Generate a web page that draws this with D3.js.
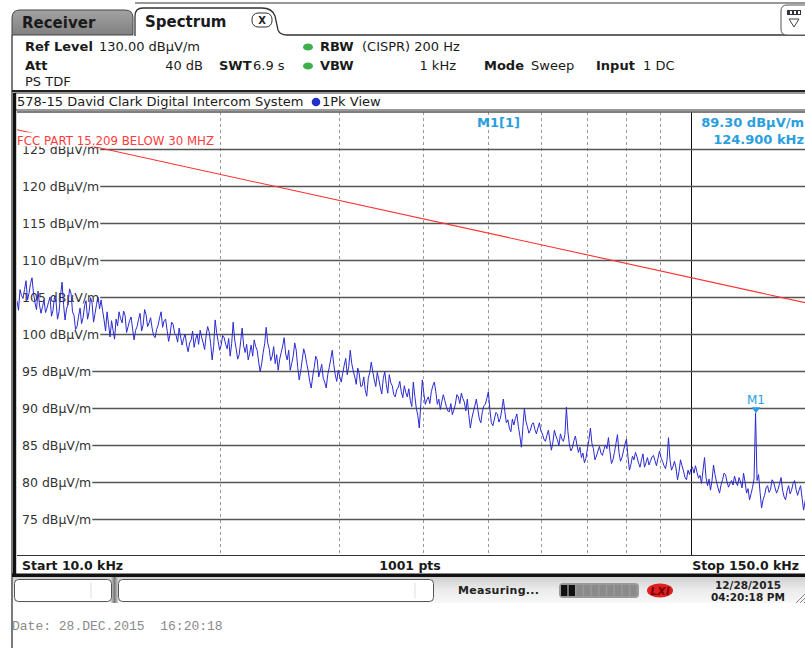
<!DOCTYPE html>
<html><head><meta charset="utf-8">
<script src="https://cdn.jsdelivr.net/npm/d3@7/dist/d3.min.js"></script>
<style>
html,body{margin:0;padding:0;background:#fff;}
svg{display:block;font-family:"DejaVu Sans",Verdana,sans-serif;}
</style></head>
<body><svg id="c" width="805" height="648"></svg>
<script>
// ---------------- data ----------------
const sweepStartKHz = 10;
const sweepStopKHz = 150;
const sweepPoints = "1001 pts";
const yTicks = [125, 120, 115, 110, 105, 100, 95, 90, 85, 80, 75];
const refLevel = 130;
const xMinorGridKHz = [20, 30, 40, 50, 60, 70, 80, 90];
const xDecadeGridKHz = [100];
const limitFreqKHz = [10, 150];
const limitLevels = [127.6, 104.1];
const limitName = "FCC PART 15.209 BELOW 30 MHZ";
const markerName = "M1";
const markerFreqKHz = 124.9;
const markerLevel = 89.3;
// trace levels (dBµV/m), log-spaced sweep samples from start to stop
const traceLevels = [
104.5,103.2,106.0,105.2,104.8,106.0,107.2,104.6,105.5,106.8,107.6,105.5,104.2,103.3,105.8,103.9,102.8,103.7,104.6,102.9,103.5,104.3,105.0,102.4,103.2,105.1,104.4,102.0,103.0,105.2,107.0,104.0,
101.9,103.4,104.0,106.1,105.5,103.0,102.5,100.6,101.0,102.4,103.5,101.4,102.2,103.8,104.5,102.0,103.0,104.9,104.2,101.6,102.8,104.0,105.0,103.4,104.6,103.2,101.9,100.4,103.0,101.3,99.6,101.8,
100.5,99.3,102.0,101.1,103.0,102.1,101.5,103.1,102.5,100.2,101.0,101.8,102.3,100.7,99.2,100.5,101.0,102.0,102.8,100.4,101.2,103.3,102.6,101.0,101.5,102.2,100.8,99.8,99.5,100.6,101.2,102.2,
103.0,100.9,101.8,102.0,100.5,99.0,100.0,101.6,101.3,100.1,99.8,98.9,100.8,99.6,98.5,99.4,100.0,98.5,97.6,98.8,99.2,100.4,98.2,99.3,100.0,98.6,100.5,99.6,98.8,97.9,99.8,101.0,
100.3,98.7,96.5,98.3,101.9,100.2,99.0,97.8,98.5,99.8,99.5,98.6,98.0,99.4,97.0,98.7,101.6,99.2,98.0,96.6,97.2,99.0,100.8,98.4,97.5,98.6,96.5,97.4,98.5,97.0,99.2,98.3,
97.8,96.2,94.9,96.0,97.5,98.7,100.9,98.8,98.0,96.4,97.0,98.3,96.0,97.2,95.1,96.6,97.5,98.4,99.5,97.3,96.5,97.8,95.1,96.0,97.0,98.8,97.8,95.5,93.8,95.0,96.5,98.0,
97.2,96.0,95.0,93.6,92.7,94.3,95.5,97.0,96.5,94.2,95.0,95.9,94.0,93.5,92.7,94.5,95.5,96.6,97.8,95.9,94.5,93.6,95.1,94.2,93.5,94.7,95.8,96.7,94.5,95.6,97.8,96.0,
95.0,94.2,93.2,95.4,94.6,92.9,93.0,94.2,92.4,91.6,94.0,94.8,96.2,94.9,93.8,92.9,94.8,93.9,92.8,91.9,94.0,94.9,93.2,92.0,94.5,93.4,93.0,91.8,91.5,92.5,92.8,93.6,
92.2,91.4,93.0,92.1,91.5,92.6,91.0,90.2,93.5,91.6,90.0,89.0,87.3,90.5,93.8,92.0,90.5,91.1,91.5,90.6,92.2,93.0,93.5,92.2,90.5,91.2,89.8,90.9,91.8,91.0,90.2,89.6,
89.5,90.6,89.1,89.7,90.5,91.8,91.5,90.6,92.0,91.3,90.8,89.6,91.2,89.0,87.3,88.6,89.5,90.3,91.2,89.8,88.5,88.0,89.5,90.3,90.5,91.3,92.2,89.8,88.0,87.6,88.5,89.4,
89.2,88.1,88.6,89.8,91.2,89.5,88.0,88.4,87.3,86.8,88.5,87.7,88.6,89.2,87.5,86.2,84.7,87.4,90.0,88.2,87.5,86.6,87.0,87.8,88.0,87.1,86.5,87.3,88.0,86.9,86.5,85.8,
85.5,86.3,87.0,85.6,84.3,85.4,87.0,86.2,85.7,84.9,86.5,85.8,85.5,86.4,90.1,86.8,85.0,84.2,84.6,85.6,86.2,85.0,84.0,84.7,83.3,83.9,82.6,83.2,84.5,85.7,87.3,85.2,
84.5,83.0,83.5,84.2,84.8,83.9,83.6,84.4,85.0,84.5,86.0,84.1,82.5,83.0,84.0,85.2,86.4,84.0,82.8,83.3,84.2,85.1,85.8,83.4,81.6,82.4,83.5,83.0,84.0,83.4,82.6,82.0,
83.0,83.8,82.0,82.6,83.3,82.3,82.8,83.4,83.6,82.9,82.2,83.2,84.2,83.3,82.8,82.2,81.8,82.9,86.0,83.0,81.6,82.1,82.8,81.9,80.3,81.4,83.0,82.2,81.5,80.6,80.3,81.6,
81.0,81.8,82.0,81.2,82.2,81.3,80.5,80.9,79.8,81.6,83.3,80.6,79.5,80.4,78.9,80.2,82.3,81.0,80.0,79.2,78.5,79.6,80.3,81.2,81.0,80.0,79.3,79.8,80.2,79.6,80.8,80.0,
79.5,80.6,80.0,79.2,81.2,80.0,78.5,79.1,77.6,78.4,79.3,80.4,89.3,80.2,81.0,78.6,76.5,77.6,78.2,79.2,79.5,78.6,79.0,80.3,80.0,79.2,78.5,79.0,79.8,80.6,78.9,78.0,
77.6,78.8,79.5,78.4,78.9,79.8,80.2,79.0,78.2,78.9,79.5,77.8,76.2,77.4,78.5,79.4,79.0
];

// ---------------- drawing ----------------
const svg = d3.select("#c");
const W = 805;
const plot = {left: 17, right: 809.6, top: 112, bottom: 555};
const x = d3.scaleLog().domain([sweepStartKHz, sweepStopKHz]).range([plot.left, plot.right]);
const y = d3.scaleLinear().domain([125, 75]).range([149, 519]);

const defs = svg.append("defs");
const g1 = defs.append("linearGradient").attr("id","tabg").attr("x1",0).attr("y1",0).attr("x2",0).attr("y2",1);
g1.append("stop").attr("offset","0").attr("stop-color","#a3a3a3");
g1.append("stop").attr("offset","1").attr("stop-color","#808080");
const g2 = defs.append("linearGradient").attr("id","stg").attr("x1",0).attr("y1",0).attr("x2",0).attr("y2",1);
g2.append("stop").attr("offset","0").attr("stop-color","#cfcfcf");
g2.append("stop").attr("offset","0.5").attr("stop-color","#ececec");
g2.append("stop").attr("offset","1").attr("stop-color","#f7f7f7");
const g3 = defs.append("linearGradient").attr("id","sepg").attr("x1",0).attr("y1",0).attr("x2",1).attr("y2",0);
g3.append("stop").attr("offset","0").attr("stop-color","#d0d0d0");
g3.append("stop").attr("offset","0.5").attr("stop-color","#7a7a7a");
g3.append("stop").attr("offset","1").attr("stop-color","#d0d0d0");
defs.append("clipPath").attr("id","pc").append("rect")
  .attr("x",plot.left).attr("y",plot.top).attr("width",W-plot.left).attr("height",plot.bottom-plot.top);

// ----- tabs -----
svg.append("line").attr("x1",135).attr("x2",W).attr("y1",3).attr("y2",3).attr("stroke","#333").attr("stroke-width",1.2);
svg.append("path").attr("d","M12,35 L12,18 Q12,10 20,10 L125,10 Q133,10 133,18 L133,35 Z")
  .attr("fill","url(#tabg)").attr("stroke","#444").attr("stroke-width",1);
svg.append("text").attr("x",22).attr("y",28).attr("font-size",15).attr("font-weight","bold").attr("fill","#1a1a1a").text("Receiver");
svg.append("path").attr("d","M135,36 L135,16 Q135,8 143,8 L262,8 Q272,8 275,16 L278,30 Q280,35 287,35 L"+W+",35")
  .attr("fill","#fff").attr("stroke","#333").attr("stroke-width",1.3);
svg.append("text").attr("x",145).attr("y",27).attr("font-size",15).attr("font-weight","bold").attr("fill","#1a1a1a").text("Spectrum");
svg.append("rect").attr("x",252).attr("y",13).attr("width",20).attr("height",14).attr("rx",6)
  .attr("fill","#fff").attr("stroke","#333").attr("stroke-width",1);
svg.append("text").attr("x",262).attr("y",24).attr("text-anchor","middle").attr("font-size",10).attr("font-weight","bold").attr("fill","#222").text("X");
// top-right icon
svg.append("path").attr("d","M"+(W+3)+",5 L787,5 Q781,5 781,11 L781,29 Q781,35 787,35 L"+(W+3)+",35")
  .attr("fill","#fff").attr("stroke","#555").attr("stroke-width",1);
svg.append("rect").attr("x",787).attr("y",10).attr("width",14).attr("height",5).attr("fill","#334");
[790,794,798].forEach(v=>svg.append("rect").attr("x",v).attr("y",11).attr("width",2).attr("height",3).attr("fill","#fff"));
svg.append("path").attr("d","M789,19 L799,19 L794,27 Z").attr("fill","none").attr("stroke","#444").attr("stroke-width",1);
// left border
svg.append("line").attr("x1",12).attr("x2",12).attr("y1",35).attr("y2",648).attr("stroke","#222").attr("stroke-width",1.2);

// ----- header -----
const hdr = svg.append("g").attr("font-size",13).attr("fill","#1a1a1a");
function ht(xp, yp, txt, bold, anchor){
  hdr.append("text").attr("x",xp).attr("y",yp).attr("font-weight",bold?"bold":"normal")
    .attr("text-anchor",anchor||"start").text(txt);
}
ht(25,51,"Ref Level",true); ht(99,51,"130.00 dBµV/m");
ht(320,51,"RBW",true); ht(362,51,"(CISPR) 200 Hz");
ht(25,70,"Att",true); ht(203,70,"40 dB",false,"end");
ht(219,70,"SWT",true); ht(253,70,"6.9 s");
ht(320,70,"VBW",true); ht(456,70,"1 kHz",false,"end");
ht(484,70,"Mode",true); ht(531,70,"Sweep");
ht(596,70,"Input",true); ht(643,70,"1 DC");
ht(25,86,"PS TDF");
[47,66].forEach(cy=>svg.append("ellipse").attr("cx",308).attr("cy",cy).attr("rx",5).attr("ry",3.6).attr("fill","#3cb04a"));
svg.append("line").attr("x1",12).attr("x2",W).attr("y1",91).attr("y2",91).attr("stroke","#222").attr("stroke-width",2.2);

// ----- plot frame / title -----
svg.append("rect").attr("x",14).attr("y",93).attr("width",W).attr("height",17).attr("fill","#fff").attr("stroke","#333").attr("stroke-width",1);
svg.append("text").attr("x",17).attr("y",106).attr("font-size",13).attr("fill","#1a1a1a").text("578-15 David Clark Digital Intercom System");
svg.append("circle").attr("cx",316).attr("cy",102).attr("r",4.3).attr("fill","#2030c8");
svg.append("text").attr("x",322).attr("y",106).attr("font-size",13).attr("fill","#1a1a1a").text("1Pk View");

// vertical grid
const vg = svg.append("g");
vg.selectAll("line.minor").data(xMinorGridKHz).join("line").attr("class","minor")
  .attr("x1",d=>Math.round(x(d))+0.5).attr("x2",d=>Math.round(x(d))+0.5).attr("y1",plot.top).attr("y2",plot.bottom)
  .attr("stroke","#9a9a9a").attr("stroke-width",1).attr("stroke-dasharray","3,3");
vg.selectAll("line.major").data(xDecadeGridKHz).join("line").attr("class","major")
  .attr("x1",d=>Math.round(x(d))+0.5).attr("x2",d=>Math.round(x(d))+0.5).attr("y1",plot.top).attr("y2",plot.bottom)
  .attr("stroke","#111").attr("stroke-width",1);

// horizontal grid with axis
svg.append("line").attr("x1",plot.left).attr("x2",W).attr("y1",y(refLevel)).attr("y2",y(refLevel)).attr("stroke","#555").attr("stroke-width",1.6);
const yAxis = d3.axisRight(y).tickValues(yTicks).tickSize(W - plot.left).tickFormat(d=>d+" dBµV/m");
const ya = svg.append("g").attr("transform","translate("+plot.left+",0)").call(yAxis);
ya.select(".domain").remove();
ya.selectAll(".tick line").attr("stroke","#555").attr("stroke-width",1.6);
ya.selectAll(".tick text").attr("x",5).attr("dy","0.35em").attr("font-size",12.5).attr("fill","#333")
  .attr("font-family","DejaVu Sans, sans-serif").attr("text-anchor","start");
ya.selectAll(".tick").each(function(){
  const t = d3.select(this).select("text");
  const bb = t.node().getBBox();
  d3.select(this).insert("rect", () => t.node()).attr("x",-1).attr("y",bb.y+1).attr("width",bb.width+7).attr("height",bb.height-2).attr("fill","#fff");
});

// limit line
const pc = svg.append("g").attr("clip-path","url(#pc)");
pc.append("path").datum(limitFreqKHz.map((f,i)=>[f,limitLevels[i]]))
  .attr("d",d3.line().x(d=>x(d[0])).y(d=>y(d[1]))).attr("fill","none").attr("stroke","#ff3030").attr("stroke-width",1.1);
// limit label
const lg = svg.append("g");
const ll = lg.append("text").attr("x",17).attr("y",145).attr("font-size",11.8).attr("fill","#ff3c3c").text(limitName);
const lb = ll.node().getBBox();
lg.insert("rect", () => ll.node()).attr("x",lb.x+6).attr("y",132.5).attr("width",lb.width-5).attr("height",14).attr("fill","#fff");

// trace
const N = traceLevels.length;
const traceData = traceLevels.map((v,i)=>[sweepStartKHz*Math.pow(sweepStopKHz/sweepStartKHz, i/(N-1)), v]);
pc.append("path").datum(traceData).attr("d",d3.line().x(d=>x(d[0])).y(d=>y(d[1])))
  .attr("fill","none").attr("stroke","#2a2ad0").attr("stroke-width",1).attr("stroke-linejoin","round");

// marker
const mx = x(markerFreqKHz), my = y(markerLevel);
svg.append("path").attr("d",`M${mx-4.5},${my-6} L${mx+4.5},${my-6} L${mx},${my} Z`).attr("fill","#2a9ee0");
svg.append("text").attr("x",mx).attr("y",my-9).attr("text-anchor","middle").attr("font-size",12).attr("fill","#2a9ee0").text(markerName);

// marker readout
const mr = svg.append("g").attr("font-size",13).attr("font-weight","bold").attr("fill","#2a9ee0");
mr.append("text").attr("x",477).attr("y",127).text(markerName+"[1]");
mr.append("text").attr("x",804).attr("y",127).attr("text-anchor","end").text(markerLevel.toFixed(2)+" dBµV/m");
mr.append("text").attr("x",804).attr("y",144).attr("text-anchor","end").text(markerFreqKHz.toFixed(3)+" kHz");

// plot frame lines
svg.append("line").attr("x1",plot.left).attr("x2",W).attr("y1",plot.bottom+0.5).attr("y2",plot.bottom+0.5).attr("stroke","#333").attr("stroke-width",1);
svg.append("rect").attr("x",13).attr("y",93).attr("width",3.2).attr("height",483).attr("fill","#111");

// bottom bar
const bb = svg.append("g").attr("font-size",12.5).attr("font-weight","bold").attr("fill","#1a1a1a");
bb.append("text").attr("x",22).attr("y",570).text("Start "+sweepStartKHz.toFixed(1)+" kHz");
bb.append("text").attr("x",410).attr("y",570).attr("text-anchor","middle").text(sweepPoints);
bb.append("text").attr("x",799).attr("y",570).attr("text-anchor","end").text("Stop "+sweepStopKHz.toFixed(1)+" kHz");
svg.append("rect").attr("x",12).attr("y",573.5).attr("width",W).attr("height",3.5).attr("fill","#111");

// status bar
svg.append("rect").attr("x",13).attr("y",577).attr("width",W).attr("height",26).attr("fill","url(#stg)");
svg.append("rect").attr("x",111).attr("y",577).attr("width",7).attr("height",26).attr("fill","url(#sepg)");
svg.append("rect").attr("x",14.5).attr("y",579.5).attr("width",97).attr("height",22).attr("rx",4).attr("fill","#fff").attr("stroke","#555");
svg.append("line").attr("x1",91).attr("x2",91).attr("y1",583).attr("y2",598).attr("stroke","#ddd");
svg.append("rect").attr("x",118.5).attr("y",579.5).attr("width",315).attr("height",22).attr("rx",4).attr("fill","#fff").attr("stroke","#555");
svg.append("line").attr("x1",415).attr("x2",415).attr("y1",583).attr("y2",598).attr("stroke","#ddd");
svg.append("text").attr("x",458).attr("y",594).attr("font-size",11).attr("font-weight","bold").attr("fill","#222").attr("letter-spacing","0.3").text("Measuring...");
svg.append("rect").attr("x",559).attr("y",583).attr("width",80).attr("height",15).attr("rx",4).attr("fill","#9a9a9a");
d3.range(10).forEach(i=>svg.append("rect").attr("x",561+i*7.7).attr("y",585).attr("width",6.3).attr("height",11)
  .attr("fill", i<2 ? "#111" : "#8a8a8a"));
svg.append("ellipse").attr("cx",660).attr("cy",590.5).attr("rx",13).attr("ry",7).attr("fill","#e02020");
svg.append("text").attr("x",660).attr("y",595).attr("text-anchor","middle").attr("font-size",11).attr("font-style","italic").attr("font-weight","bold").attr("fill","#7a0000").text("LXI");
svg.append("text").attr("x",748).attr("y",589).attr("text-anchor","middle").attr("font-size",10.5).attr("font-weight","bold").attr("fill","#222").text("12/28/2015");
svg.append("text").attr("x",748).attr("y",601).attr("text-anchor","middle").attr("font-size",10.5).attr("font-weight","bold").attr("fill","#222").text("04:20:18 PM");
[0,4,8].forEach(o=>svg.append("line").attr("x1",796+o).attr("y1",603).attr("x2",806).attr("y2",593+o).attr("stroke","#888").attr("stroke-width",1));

// footer date
svg.append("text").attr("x",12).attr("y",630).attr("font-family","Liberation Mono, Courier New, monospace").attr("font-size",13).attr("fill","#8a8a8a").attr("xml:space","preserve").text("Date: 28.DEC.2015  16:20:18");
</script></body></html>
